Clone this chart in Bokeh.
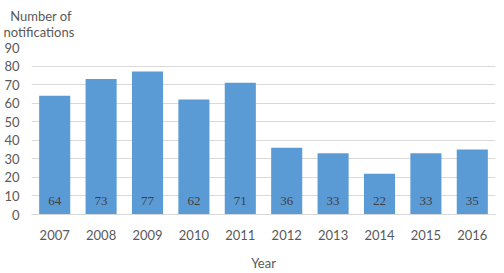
from bokeh.plotting import figure
from bokeh.models import ColumnDataSource, LabelSet
from bokeh.embed import file_html
from bokeh.resources import INLINE

years = ["2007", "2008", "2009", "2010", "2011", "2012", "2013", "2014", "2015", "2016"]
counts = [64, 73, 77, 62, 71, 36, 33, 22, 33, 35]
y_ticks = [0, 10, 20, 30, 40, 50, 60, 70, 80, 90]
label_y = [7.5] * len(years)

FONT = "Lato"

src = ColumnDataSource(dict(year=years, count=counts, ly=label_y, txt=[str(c) for c in counts]))

p = figure(x_range=years, y_range=(0, 90), width=504, height=273,
           output_backend="svg", toolbar_location=None,
           min_border_left=31, min_border_right=9, min_border_top=47, min_border_bottom=58)
p.outline_line_color = None
p.background_fill_color = "white"

p.vbar(x="year", top="count", width=0.67, source=src, fill_color="#5B9BD5", line_color=None)

labels = LabelSet(x="year", y="ly", text="txt", source=src, text_align="center",
                  text_baseline="middle", text_font_size="13px", text_color="#404040",
                  text_font=FONT)
p.add_layout(labels)

p.xgrid.grid_line_color = None
p.ygrid.grid_line_color = "#D9D9D9"
p.ygrid.grid_line_width = 1
p.yaxis.ticker = y_ticks
p.yaxis.axis_line_color = None
p.yaxis.major_tick_line_color = None
p.yaxis.minor_tick_line_color = None
p.yaxis.major_label_text_color = "#595959"
p.yaxis.major_label_text_font_size = "13px"
p.yaxis.major_label_text_font = FONT
p.yaxis.major_label_standoff = 6

p.xaxis.axis_line_color = "#D9D9D9"
p.xaxis.major_tick_line_color = None
p.xaxis.minor_tick_line_color = None
p.xaxis.major_label_text_color = "#595959"
p.xaxis.major_label_text_font_size = "13px"
p.xaxis.major_label_text_font = FONT
p.xaxis.major_label_standoff = 9
p.xaxis.axis_label = "Year"
p.xaxis.axis_label_text_font = FONT
p.xaxis.axis_label_text_font_style = "normal"
p.xaxis.axis_label_text_font_size = "13px"
p.xaxis.axis_label_text_color = "#595959"
p.xaxis.axis_label_standoff = 12

p.title.text = "\u00a0\u00a0Number of\nnotifications"
p.title.align = "left"
p.title.vertical_align = "top"
p.title.offset = -28
p.title.standoff = 10
p.title.text_font = FONT
p.title.text_font_size = "13px"
p.title.text_font_style = "normal"
p.title.text_color = "#595959"
p.title.text_line_height = 1.05

open("out.html", "w").write(file_html(p, INLINE))
